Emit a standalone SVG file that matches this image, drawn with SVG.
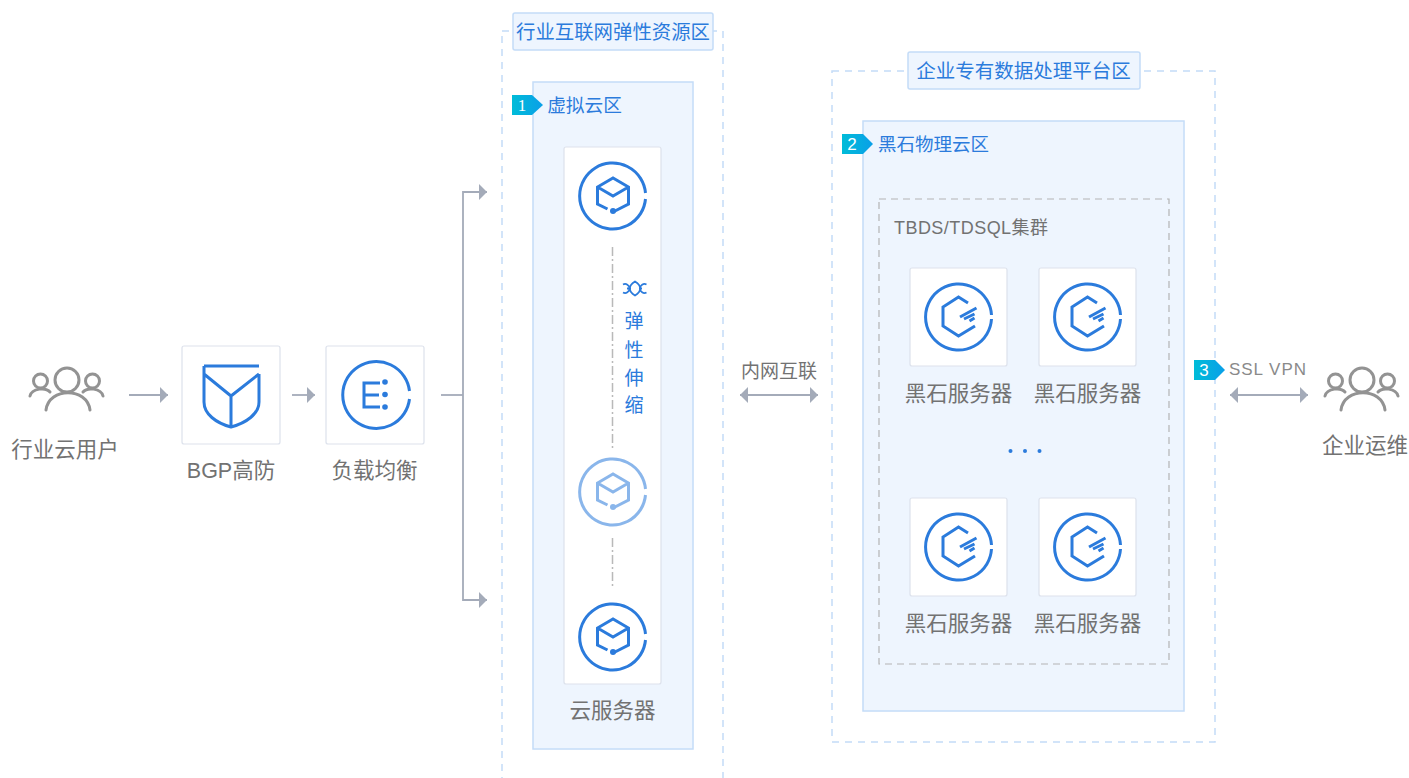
<svg xmlns="http://www.w3.org/2000/svg" xmlns:xlink="http://www.w3.org/1999/xlink" width="1409" height="778" viewBox="0 0 1409 778">
<style>
text{font-family:"Liberation Sans","Noto Sans CJK SC",sans-serif}
.g{fill:#727272;font-size:21.500px;text-anchor:middle}
.b{fill:#2b7bdc;text-anchor:middle}
.card{fill:#fff;stroke:#dde2ec;stroke-width:1.2}
.zone{fill:#eef5fe;stroke:#c4dcf8;stroke-width:1.5}
.title{fill:#eef5fe;stroke:#c4dcf8;stroke-width:1.5}
.dash{fill:none;stroke:#c4dcf8;stroke-width:1.5;stroke-dasharray:7 6}
.ic{fill:none;stroke:#2b7bdc;stroke-width:3}
.usr{fill:none;stroke:#939393;stroke-width:3;stroke-linecap:round}
.ln{fill:none;stroke:#a4abb9;stroke-width:1.8}
.bt{fill:#fff;font-size:17px;font-weight:bold;text-anchor:middle}
</style>
<defs>
<marker id="arr" markerUnits="userSpaceOnUse" markerWidth="10" markerHeight="16" refX="9" refY="8" orient="auto-start-reverse"><path d="M1 0L9 8L1 16Z" fill="#a4abb9"/></marker>
<linearGradient id="bg"><stop offset="0" stop-color="#00bcd8"/><stop offset="1" stop-color="#0a9fe8"/></linearGradient>
<g id="users"><circle cx="0" cy="-15" r="12" class="usr"/><path d="M-21 15C-18 -8 20 -8 23 15" class="usr"/><circle cx="-26.500" cy="-14" r="7" class="usr"/><path d="M-37 1C-35 -7 -21 -8 -17 -3" class="usr"/><circle cx="25.500" cy="-14" r="7" class="usr"/><path d="M36 1C34 -7 20 -8 16 -3" class="usr"/></g>
<g id="cvm"><path d="M33 -3A33 33 0 1 0 33 3" class="ic"/><path d="M-5 13L-15 8V-9L0.500 -18L16 -9V8L0.500 16M-15 -9L0.500 0L16 -9" class="ic"/><circle cx="0.500" cy="15" r="3" fill="#2b7bdc"/></g>
<g id="srv"><path d="M33 -2A33 33 0 1 0 33 2" class="ic"/><path d="M9.500 -14L0 -20L-15.500 -10V9L0 19L16.500 9" class="ic"/><path d="M1.500 0L18 -9M5.500 2L16 -3M11 4L16 1" class="ic"/></g>
<g id="srvnode"><rect x="-48.500" y="-49" width="97" height="98" rx="2" class="card"/><use href="#srv"/><text y="84" class="g">黑石服务器</text></g>
</defs>

<g id="zone-internet">
<rect x="502" y="31" width="221" height="760" class="dash"/>
<rect x="513" y="13" width="200" height="37" rx="2" class="title"/>
<text x="613" y="39" class="b" font-size="19.400">行业互联网弹性资源区</text>
</g>
<g id="zone-enterprise">
<rect x="832" y="71" width="383" height="671" class="dash"/>
<rect x="908" y="52" width="232" height="37" rx="2" class="title"/>
<text x="1023.500" y="78" class="b" font-size="19.500">企业专有数据处理平台区</text>
</g>

<g id="zone-vpc">
<rect x="533" y="82" width="160" height="667" class="zone"/>
<path d="M512 95H532L543 105L532 115H512Z" fill="url(#bg)"/>
<text x="522" y="111" class="bt" style="font-family:'Liberation Serif',serif;font-weight:normal">1</text>
<text x="584.500" y="112" class="b" font-size="18.700">虚拟云区</text>
</g>
<g id="zone-physical">
<rect x="863" y="121" width="321" height="590" class="zone"/>
<path d="M842 134H863L873 144L863 154H842Z" fill="url(#bg)"/>
<text x="852" y="150" class="bt" style="font-weight:normal">2</text>
<text x="933.500" y="151" class="b" font-size="18.500">黑石物理云区</text>
</g>
<g id="cluster">
<rect x="879" y="199" width="290" height="465" fill="none" stroke="#b4b4b4" stroke-width="1.200" stroke-dasharray="7 5"/>
<text x="894" y="234" fill="#727272" font-size="18" textLength="154">TBDS/TDSQL集群</text>
</g>

<g id="connectors">
<path d="M129 395H168" class="ln" marker-end="url(#arr)"/>
<path d="M292 395H315" class="ln" marker-end="url(#arr)"/>
<path d="M441 395H463" class="ln"/>
<path d="M487 192H463V600H487" class="ln" marker-start="url(#arr)" marker-end="url(#arr)"/>
<path d="M740 395H818" class="ln" marker-start="url(#arr)" marker-end="url(#arr)"/>
<path d="M1230 395H1308" class="ln" marker-start="url(#arr)" marker-end="url(#arr)"/>
</g>

<g id="industry-users"><use href="#users" x="67" y="395"/><text x="65" y="457" class="g">行业云用户</text></g>
<g id="bgp">
<rect x="182" y="346" width="98" height="98" rx="2" class="card"/>
<path d="M204 366H259M259 374L231 396L204 374M204 366V402C204 414 216 423 231 427C246 423 259 414 259 402V374M231 396V427" class="ic"/>
<text x="231" y="478" class="g">BGP高防</text>
</g>
<g id="lb">
<rect x="326" y="346" width="98" height="98" rx="2" class="card"/>
<path d="M409.500 391A33.500 33.500 0 1 0 409.500 399" class="ic"/>
<path d="M380 383H364V407H380M364 395H379" class="ic"/>
<circle cx="385" cy="382" r="2.800" fill="#2b7bdc"/><circle cx="385" cy="394.500" r="2.800" fill="#2b7bdc"/><circle cx="385" cy="407" r="2.800" fill="#2b7bdc"/>
<text x="374.500" y="478" class="g">负载均衡</text>
</g>

<g id="cvm-group">
<rect x="564" y="147" width="97" height="537" rx="2" class="card"/>
<use href="#cvm" x="612.500" y="196"/>
<use href="#cvm" x="612.500" y="492" opacity=".55"/>
<use href="#cvm" x="612.500" y="637"/>
<path d="M612.500 247V448M612.500 538V586" fill="none" stroke="#b9b9b9" stroke-width="1.500" stroke-dasharray="9 3 2 3"/>
<path d="M623 284.500A4.500 4.500 0 1 1 623 292.500M646.500 284.500A4.500 4.500 0 1 0 646.500 292.500M627 288.500H631M639 288.500H642M635 281.500C628 286 628 291 635 295.500C642 291 642 286 635 281.500Z" fill="none" stroke="#2b7bdc" stroke-width="1.800"/>
<text x="634" y="328" class="b" font-size="19">弹</text>
<text x="634" y="357" class="b" font-size="19">性</text>
<text x="634" y="385" class="b" font-size="19">伸</text>
<text x="634" y="412" class="b" font-size="19">缩</text>
<text x="612.500" y="718" class="g">云服务器</text>
</g>

<g id="srv-1"><use href="#srvnode" x="958.500" y="317"/></g>
<g id="srv-2"><use href="#srvnode" x="1087.500" y="317"/></g>
<g id="srv-3"><use href="#srvnode" x="958.500" y="547"/></g>
<g id="srv-4"><use href="#srvnode" x="1087.500" y="547"/></g>
<g id="ellipsis" fill="#2b7bdc"><circle cx="1010.500" cy="451" r="2"/><circle cx="1025" cy="451" r="2"/><circle cx="1039.500" cy="451" r="2"/></g>

<g id="label-intranet"><text x="779" y="378" fill="#727272" font-size="19" text-anchor="middle">内网互联</text></g>
<g id="label-vpn">
<path d="M1194 360H1215L1225 370L1215 380H1194Z" fill="url(#bg)"/>
<text x="1204" y="376" class="bt" style="font-weight:normal">3</text>
<text x="1229" y="375" fill="#8a8a8a" font-size="17" textLength="77">SSL VPN</text>
</g>
<g id="ops-users"><use href="#users" x="1362" y="395"/><text x="1365" y="453" class="g">企业运维</text></g>
</svg>
